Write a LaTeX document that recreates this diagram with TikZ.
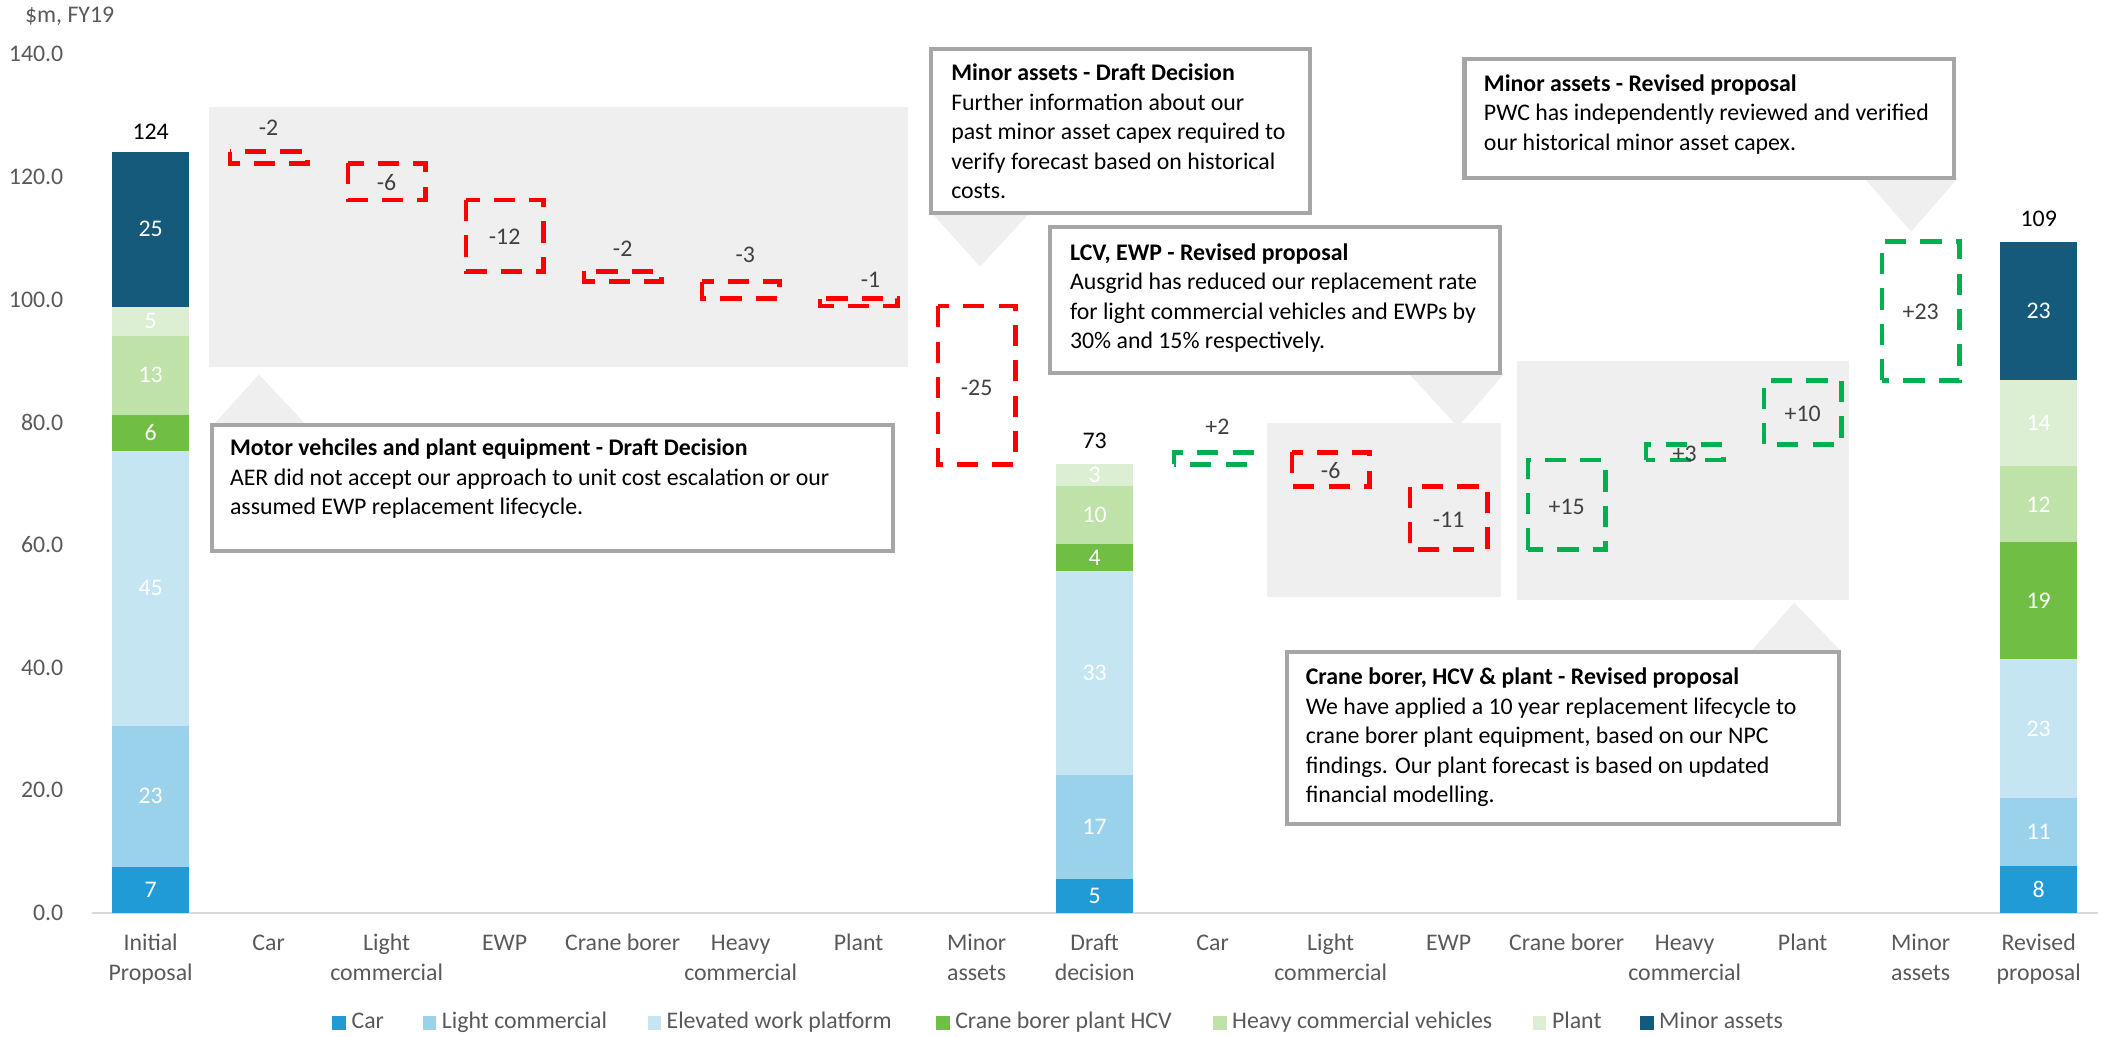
\documentclass[tikz,border=0pt]{standalone}
\usepackage{fontspec}
\setmainfont{Carlito}
\usetikzlibrary{positioning}
\definecolor{carc}{HTML}{219BD6}
\definecolor{lcvc}{HTML}{9AD2EC}
\definecolor{ewpc}{HTML}{C5E5F3}
\definecolor{cbc}{HTML}{70BF44}
\definecolor{hcvc}{HTML}{BFE2A9}
\definecolor{plantc}{HTML}{DCEFD2}
\definecolor{minorc}{HTML}{155A7B}
\definecolor{cutred}{HTML}{FF0000}
\definecolor{addgreen}{HTML}{00B050}
\definecolor{panelgrey}{HTML}{EFEFEF}
\definecolor{boxline}{HTML}{A6A6A6}
\definecolor{axistext}{HTML}{595959}
\definecolor{axisline}{HTML}{D9D9D9}
\definecolor{deltatext}{HTML}{404040}
\begin{document}
\begin{tikzpicture}[x=1.758cm, y=0.0914cm,
    font=\fontsize{10.1}{12.5}\selectfont,
    barval/.style={text=white, inner sep=0},
    total/.style={text=black, inner sep=0},
    delta/.style={text=deltatext, inner sep=0},
    cut/.style={draw=cutred, line width=2pt, dash pattern=on 9pt off 6pt},
    add/.style={draw=addgreen, line width=2pt, dash pattern=on 9pt off 6pt},
    note/.style={draw=boxline, line width=1.7pt, fill=white},
    notetext/.style={anchor=north west, align=left, inner sep=0, text=black},
    ticklab/.style={anchor=east, text=axistext, inner sep=0},
    catlab/.style={anchor=north, align=center, text=axistext, inner sep=0},
    legkey/.style={minimum width=0.2cm, minimum height=0.2cm, inner sep=0},
    legtext/.style={text=axistext, inner sep=0, text height=7pt, text depth=2pt}]
    \useasboundingbox (-1.2765,-20.07) rectangle (16.562,148.80);
    % grey groups behind the steps
    \fill[panelgrey] (0.494,131.29) rectangle (6.414,89.06);
    \fill[panelgrey] (9.461,79.80) rectangle (11.446,51.42);
    \fill[panelgrey] (11.579,89.96) rectangle (14.389,51.03);
    % axis
    \node[ticklab, anchor=west] (unit) at (-1.068,146.08) {\$m, FY19};
    \node[ticklab] (t0) at (-0.736,0) {0.0};
    \node[ticklab] (t20) at (-0.736,20) {20.0};
    \node[ticklab] (t40) at (-0.736,40) {40.0};
    \node[ticklab] (t60) at (-0.736,60) {60.0};
    \node[ticklab] (t80) at (-0.736,80) {80.0};
    \node[ticklab] (t100) at (-0.736,100) {100.0};
    \node[ticklab] (t120) at (-0.736,120) {120.0};
    \node[ticklab] (t140) at (-0.736,140) {140.0};
    \draw[axisline, line width=0.8pt] (-0.5,0) -- (16.5,0);
    % initial proposal
    \fill[carc] (-0.327,0) rectangle (0.327,7.5);
    \fill[lcvc] (-0.327,7.5) rectangle (0.327,30.5);
    \fill[ewpc] (-0.327,30.5) rectangle (0.327,75.3);
    \fill[cbc] (-0.327,75.3) rectangle (0.327,81.2);
    \fill[hcvc] (-0.327,81.2) rectangle (0.327,94.1);
    \fill[plantc] (-0.327,94.1) rectangle (0.327,98.8);
    \fill[minorc] (-0.327,98.8) rectangle (0.327,124.1);
    \node[barval] (ip1) at (0,3.75) {7};
    \node[barval] (ip2) at (0,19) {23};
    \node[barval] (ip3) at (0,52.9) {45};
    \node[barval] (ip4) at (0,78.25) {6};
    \node[barval] (ip5) at (0,87.65) {13};
    \node[barval] (ip6) at (0,96.45) {5};
    \node[barval] (ip7) at (0,111.45) {25};
    \node[total] (iptot) at (0,127.3) {124};
    % draft decision
    \fill[carc] (7.673,0) rectangle (8.327,5.5);
    \fill[lcvc] (7.673,5.5) rectangle (8.327,22.5);
    \fill[ewpc] (7.673,22.5) rectangle (8.327,55.7);
    \fill[cbc] (7.673,55.7) rectangle (8.327,60.1);
    \fill[hcvc] (7.673,60.1) rectangle (8.327,69.6);
    \fill[plantc] (7.673,69.6) rectangle (8.327,73.1);
    \node[barval] (dd1) at (8,2.75) {5};
    \node[barval] (dd2) at (8,14) {17};
    \node[barval] (dd3) at (8,39.1) {33};
    \node[barval] (dd4) at (8,57.9) {4};
    \node[barval] (dd5) at (8,64.85) {10};
    \node[barval] (dd6) at (8,71.35) {3};
    \node[total] (ddtot) at (8,77.0) {73};
    % revised proposal
    \fill[carc] (15.673,0) rectangle (16.327,7.6);
    \fill[lcvc] (15.673,7.6) rectangle (16.327,18.7);
    \fill[ewpc] (15.673,18.7) rectangle (16.327,41.4);
    \fill[cbc] (15.673,41.4) rectangle (16.327,60.4);
    \fill[hcvc] (15.673,60.4) rectangle (16.327,72.8);
    \fill[plantc] (15.673,72.8) rectangle (16.327,86.8);
    \fill[minorc] (15.673,86.8) rectangle (16.327,109.4);
    \node[barval] (rp1) at (16,3.8) {8};
    \node[barval] (rp2) at (16,13.15) {11};
    \node[barval] (rp3) at (16,30.05) {23};
    \node[barval] (rp4) at (16,50.9) {19};
    \node[barval] (rp5) at (16,66.6) {12};
    \node[barval] (rp6) at (16,79.8) {14};
    \node[barval] (rp7) at (16,98.1) {23};
    \node[total] (rptot) at (16,113.2) {109};
    % steps to the draft decision
    \draw[cut] (0.673,124.1) rectangle (1.327,122.2);
    \draw[cut] (1.673,122.2) rectangle (2.327,116.2);
    \draw[cut] (2.673,116.2) rectangle (3.327,104.6);
    \draw[cut] (3.673,104.6) rectangle (4.327,102.9);
    \draw[cut] (4.673,102.9) rectangle (5.327,100.1);
    \draw[cut] (5.673,100.1) rectangle (6.327,98.9);
    \draw[cut] (6.673,98.9) rectangle (7.327,73.1);
    \node[delta] (d1) at (1,127.9) {-2};
    \node[delta] (d2) at (2,119.0) {-6};
    \node[delta] (d3) at (3,110.2) {-12};
    \node[delta] (d4) at (4,108.2) {-2};
    \node[delta] (d5) at (5.04,107.2) {-3};
    \node[delta] (d6) at (6.1,103.15) {-1};
    \node[delta] (d7) at (7,85.6) {-25};
    % steps to the revised proposal
    \draw[add] (8.673,73.1) rectangle (9.327,75.1);
    \draw[cut] (9.673,75.1) rectangle (10.327,69.5);
    \draw[cut] (10.673,69.5) rectangle (11.327,59.2);
    \draw[add] (11.673,59.2) rectangle (12.327,73.8);
    \draw[add] (12.673,73.8) rectangle (13.327,76.4);
    \draw[add] (13.673,76.4) rectangle (14.327,86.8);
    \draw[add] (14.673,86.8) rectangle (15.327,109.4);
    \node[delta] (r1) at (9.04,79.3) {+2};
    \node[delta] (r2) at (10,72.1) {-6};
    \node[delta] (r3) at (11,64.0) {-11};
    \node[delta] (r4) at (12,66.1) {+15};
    \node[delta] (r5) at (13,74.9) {+3};
    \node[delta] (r6) at (14,81.4) {+10};
    \node[delta] (r7) at (15,98.0) {+23};
    % category labels
    \node[catlab] (c0) at (0,-2.75) {\strut Initial\\Proposal};
    \node[catlab] (c1) at (1,-2.75) {\strut Car};
    \node[catlab] (c2) at (2,-2.75) {\strut Light\\commercial};
    \node[catlab] (c3) at (3,-2.75) {\strut EWP};
    \node[catlab] (c4) at (4,-2.75) {\strut Crane borer};
    \node[catlab] (c5) at (5,-2.75) {\strut Heavy\\commercial};
    \node[catlab] (c6) at (6,-2.75) {\strut Plant};
    \node[catlab] (c7) at (7,-2.75) {\strut Minor\\assets};
    \node[catlab] (c8) at (8,-2.75) {\strut Draft\\decision};
    \node[catlab] (c9) at (9,-2.75) {\strut Car};
    \node[catlab] (c10) at (10,-2.75) {\strut Light\\commercial};
    \node[catlab] (c11) at (11,-2.75) {\strut EWP};
    \node[catlab] (c12) at (12,-2.75) {\strut Crane borer};
    \node[catlab] (c13) at (13,-2.75) {\strut Heavy\\commercial};
    \node[catlab] (c14) at (14,-2.75) {\strut Plant};
    \node[catlab] (c15) at (15,-2.75) {\strut Minor\\assets};
    \node[catlab] (c16) at (16,-2.75) {\strut Revised\\proposal};
    % callouts
    \fill[panelgrey] (0.532,79.6) -- (0.919,87.75) -- (1.317,79.6) -- cycle;
    \draw[note] (0.519,79.58) rectangle (6.291,58.97);
    \node[notetext] (n1) at (0.669,77.99) {\textbf{\strut Motor vehciles and plant equipment - Draft Decision}\\AER did not accept our approach to unit cost escalation or our\\assumed EWP replacement lifecycle.};
    \fill[panelgrey] (6.619,114.1) -- (7.029,105.34) -- (7.45,114.1) -- cycle;
    \draw[note] (6.613,140.85) rectangle (9.821,114.07);
    \node[notetext] (n2) at (6.781,139.06) {\textbf{\strut Minor assets - Draft Decision}\\Further information about our\\past minor asset capex required to\\verify forecast based on historical\\costs.};
    \fill[panelgrey] (10.658,88.0) -- (11.079,79.21) -- (11.477,88.0) -- cycle;
    \draw[note] (7.621,111.79) rectangle (11.437,87.97);
    \node[notetext] (n3) at (7.787,109.83) {\textbf{\strut LCV, EWP - Revised proposal}\\Ausgrid has reduced our replacement rate\\for light commercial vehicles and EWPs by\\30\% and 15\% respectively.};
    \fill[panelgrey] (14.521,119.8) -- (14.918,111.03) -- (15.316,119.8) -- cycle;
    \draw[note] (11.134,139.12) rectangle (15.280,119.80);
    \node[notetext] (n4) at (11.295,137.40) {\textbf{\strut Minor assets - Revised proposal}\\PWC has independently reviewed and verified\\our historical minor asset capex.};
    \fill[panelgrey] (13.556,42.5) -- (13.928,50.57) -- (14.332,42.5) -- cycle;
    \draw[note] (9.628,42.45) rectangle (14.308,14.42);
    \node[notetext] (n5) at (9.785,40.59) {\textbf{\strut Crane borer, HCV \& plant - Revised proposal}\\We have applied a 10 year replacement lifecycle to\\crane borer plant equipment, based on our NPC\\findings. Our plant forecast is based on updated\\financial modelling.};
    % legend
    \node[legkey, fill=carc] (kcar) at (1.598,-17.94) {};
    \node[legtext, right=0.07cm of kcar] (tcar) {Car};
    \node[legkey, fill=lcvc] (klcv) at (2.364,-17.94) {};
    \node[legtext, right=0.07cm of klcv] (tlcv) {Light commercial};
    \node[legkey, fill=ewpc] (kewp) at (4.268,-17.94) {};
    \node[legtext, right=0.07cm of kewp] (tewp) {Elevated work platform};
    \node[legkey, fill=cbc] (kcb) at (6.714,-17.94) {};
    \node[legtext, right=0.07cm of kcb] (tcb) {Crane borer plant HCV};
    \node[legkey, fill=hcvc] (khcv) at (9.061,-17.94) {};
    \node[legtext, right=0.07cm of khcv] (thcv) {Heavy commercial vehicles};
    \node[legkey, fill=plantc] (kplant) at (11.771,-17.94) {};
    \node[legtext, right=0.07cm of kplant] (tplant) {Plant};
    \node[legkey, fill=minorc] (kminor) at (12.679,-17.94) {};
    \node[legtext, right=0.07cm of kminor] (tminor) {Minor assets};
\end{tikzpicture}
\end{document}
